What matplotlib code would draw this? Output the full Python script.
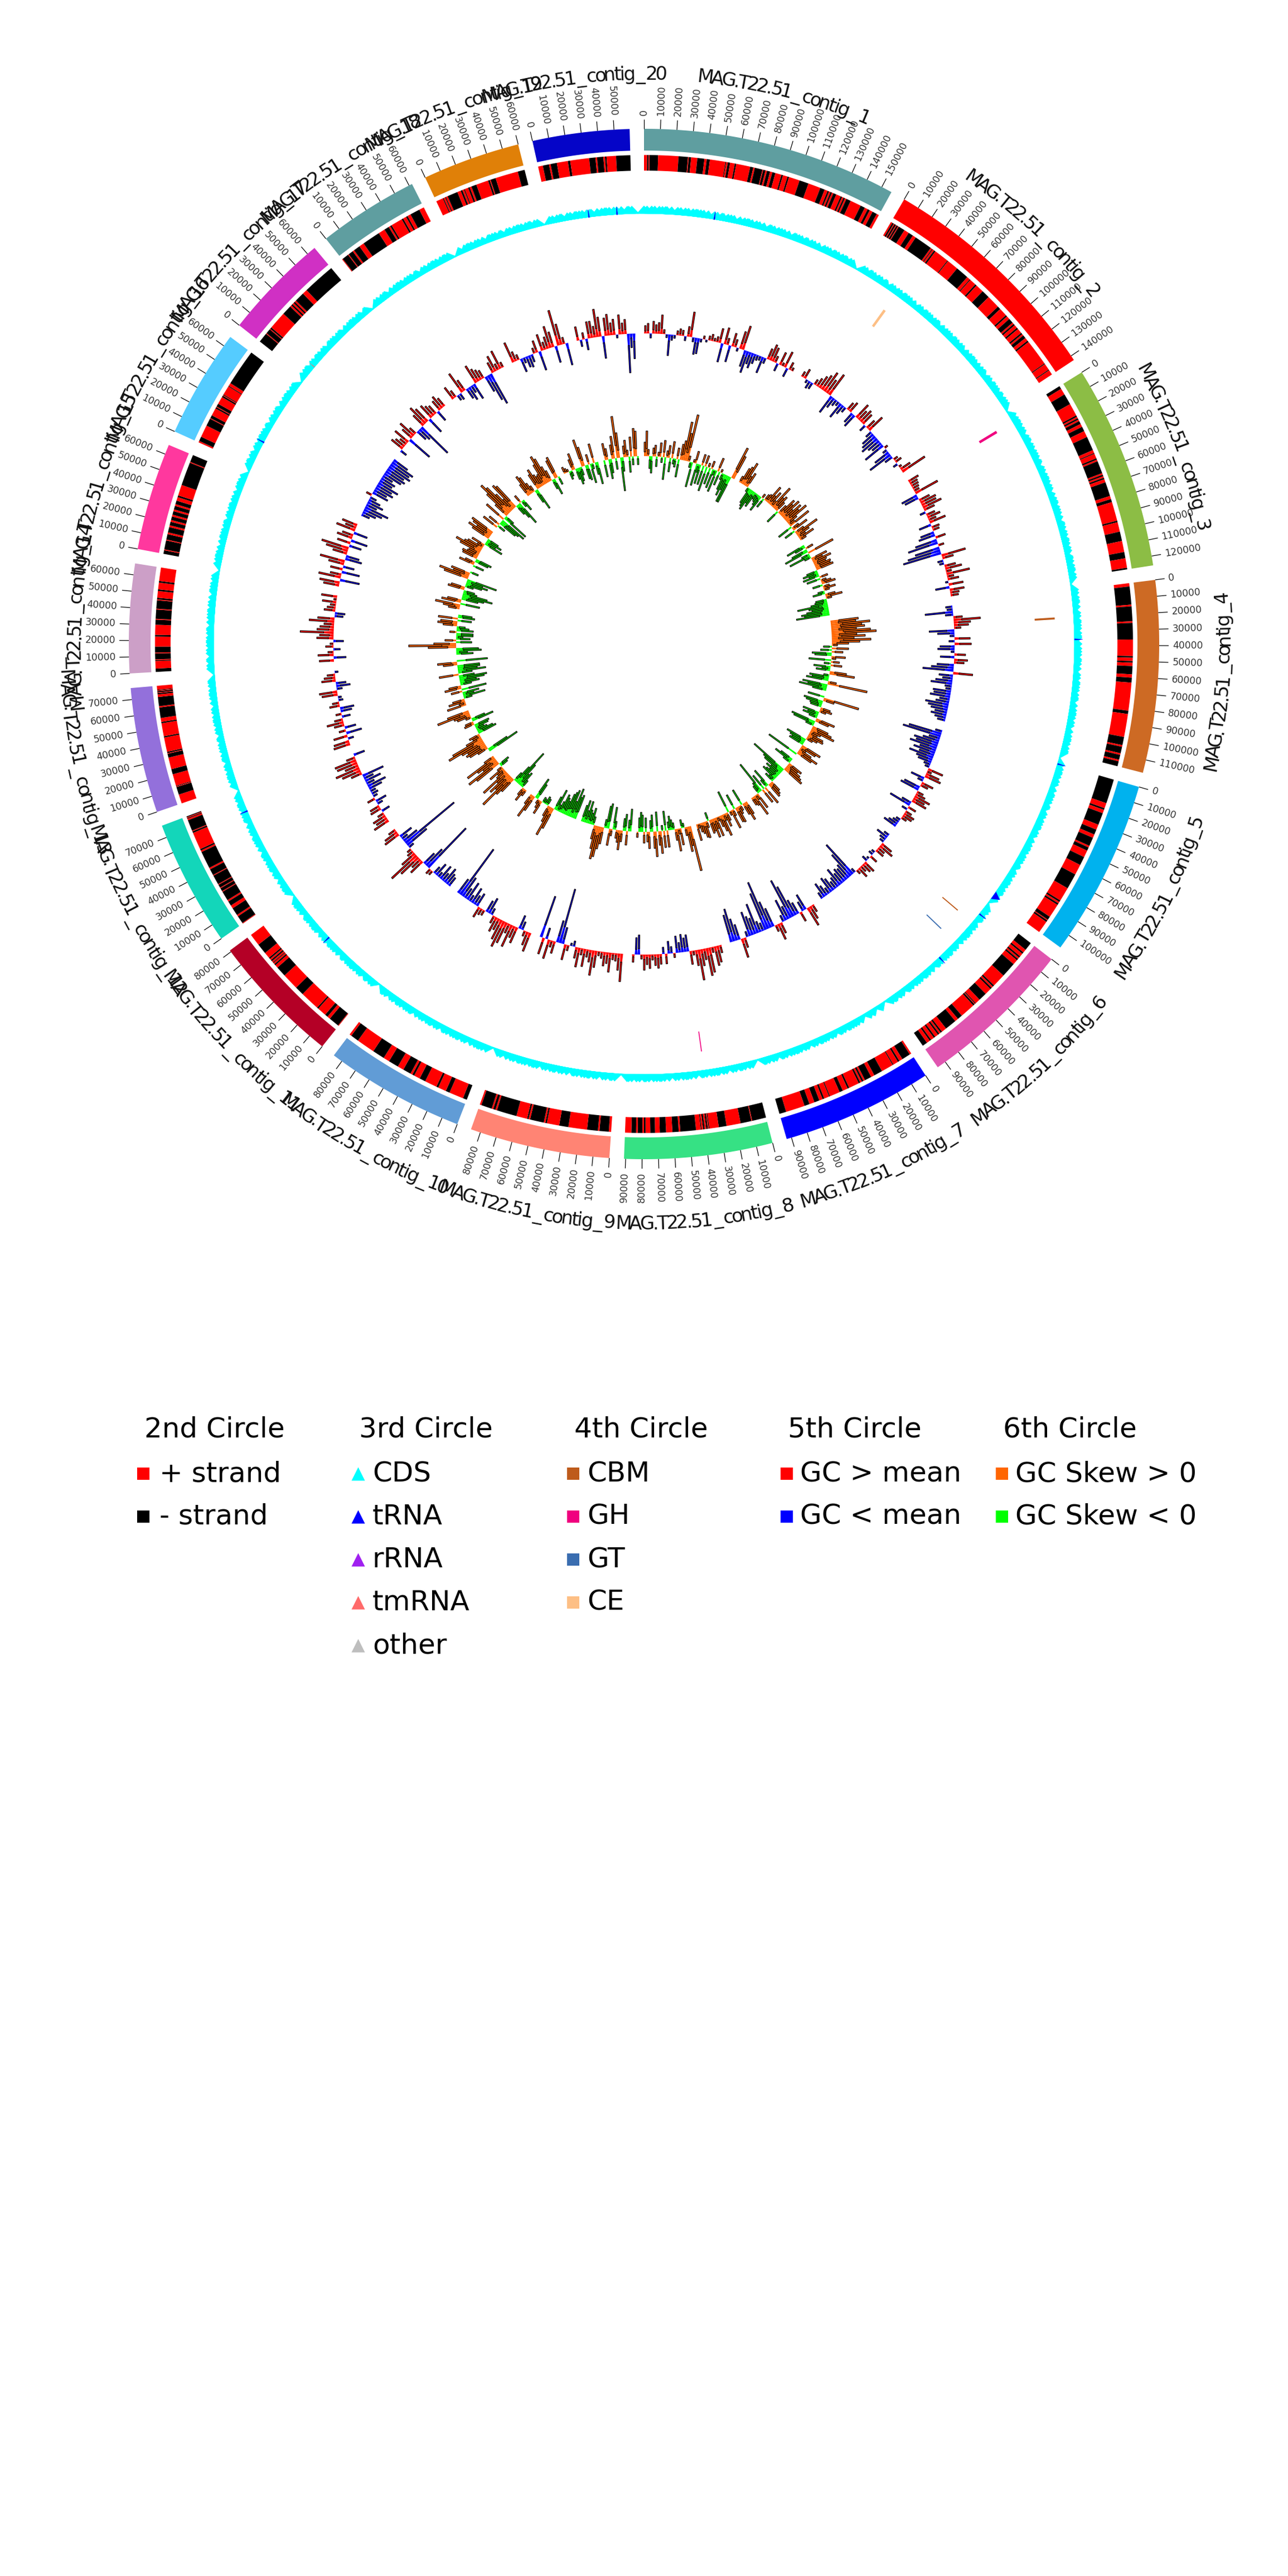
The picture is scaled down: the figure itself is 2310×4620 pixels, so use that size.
import numpy as np
import matplotlib
matplotlib.use("Agg")
import matplotlib.pyplot as plt
from matplotlib.collections import PolyCollection
from matplotlib.textpath import TextToPath
from matplotlib.font_manager import FontProperties

contig_names = [f"MAG.T22.51_contig_{i}" for i in range(1, 21)]
contig_kb = [156.6,143,125.7,118,109,95.6,93,91,86,86,81,77.6,77,67,66,66.7,65.6,62,60,59.5]
contig_colors = ["#5F9EA0","#FF0000","#8CBD45","#CD6A24","#00B2EE","#E055B0","#0000FF","#36E184","#FF8474","#619CD6",
                 "#B40026","#13D6BA","#9370DB","#CC9FC7","#FF389E","#55CCFF","#D030C4","#5F9EA0","#E08008","#0505C8"]

# alternating run lengths (kb), first run is + strand (red)
strand_runs = [
 [2,1,.5,5.5,13,6,.5,1.5,4,4.5,1.5,2,10,.5,1,1.5,3,1,9,2,1,5,.5,1.5,1,2,1.5,2,4,1,3,1,7,6,8,3,2,1,1,1,1,2,3,1,1,1,1,3,7,3,2,1.5,2,3,1.5],
 [1,1,.5,1,.5,1,.5,4,3,3,2,11,1,.5,1,1,9,.5,7,8,2,.5,4,1,5,5,8,2,5,1,2,3,1,1,2,1,3,1,1,2,2,1,16,.5,4,.5,3],
 [0,2,4,7,8,1,1,1,1,2,2,3,4,9,2,.5,3,1,1,8,1,1,1,1,2,9,2,2,12,1,6,6,7,4,6,1],
 [2,11,1,9,1,10,10,1,2,1,2,5,2,3,17,2,14,5,1,4,1,3,1,3],
 [0,14,3,1,2,7,3,3,2,5,1,2,4,5,6,9,8,1,1,1,8,2,.5,1,7],
 [0,5,2,1,2,1,1,1,3,9,8,1,1,1,4,5,3,.5,.5,1,9,3,2,7,3,1,1,1,2,1,2,1,2,3],
 [1,5,2,1,3,.5,7,5,2,4,1,1,1,1,6,1,3,2,6,.5,3,1,2,3,3,3,11,4],
 [0,9,.5,7,9,5,6,.5,.5,1,1,1,1,.5,3,10,1,4,4,4,3,3,3,1,1,3,1,3,4],
 [1.5,6,1,7,12,6,8,1,1,9,1,1,7,13,1,1.5,1,7,1],
 [0,2,7,2,4,1,6,3,3,1,1,4,3,5,3,6,9,4,1],
 [.5,7,2,2,6,1,13,6,11,7,2,1,1,.5,1,1,1,1,4,7,8],
 [.5,5,1,5,2,3,1,6,.5,2,.5,2,.5,6,.5,4,1,11,1,1,11,1,.5,7,1,.5,.5,.5],
 [7,6,.5,.5,9,4,9,3,.5,1,11,1,10,1,3,8,1,7,2,1,.5,1,.5,.5,3],
 [0,2,4.5,.5,.5,3.5,.5,3.5,6,1,6,3,.5,5.5,.5,5,.5,1,4,1,4,1,8],
 [0,2,.5,5,.5,3,1,3,1,2,1,2,1,2,1,2,1,2,2,1,6,13,.5,4],
 [1,3,8,5,.5,2,5,1,.5,2,5,1,.5,.5,6,.5,2,24],
 [0,6,.5,3,.5,1,11,6,1,1,1,1,1,6,3,20],
 [.5,4,.5,3,1,4,3,11,4,3,1,1,7,1,2,1,2,6,3],
 [4,.5,1,.5,1,6,2,1,1,.5,2,1,1,3,7,1,.5,3,13,4],
 [3,4,1,4,7,1.5,12,4,1,4,1,1,6,9],
]

# spacing between neighbouring CDS triangles, one digit per gene step
cds_steps = [
 "232322134232321223423132243212323412322341223132342231232132",
 "2312323142323122342312232143223123243212332142312231322",
 "32123242132322314232123243213223412323123241232132",
 "2321342312232143223123423122321432123243212321",
 "321232431223142322132432123223142321232132",
 "23214232123423122321432132232142312",
 "6363222132142322132423212232142321",
 "232132423122321432123243212232132321",
 "2132423122321432312324212322132342",
 "3212342312232142312323412232132421",
 "23142321223143221323421232143212",
 "212342312232143221323412232132",
 "321232412322314232123243212321",
 "23142321232143221323412232",
 "32123431223214232132342123",
 "21324232122314232143212321",
 "32142312324122321432123241",
 "232143212322314232123212",
 "421232341223142321232132",
 "232142312232143212323412",
]

# GC deviation per window: + goes outwards, - goes inwards
gc_values = [
 [14,18,-8,22,16,20,34,8,-6,-38,-10,-6,8,12,10,-8,18,45,-8,-30,-28,-6,6,-4,8,12,6,10,26,-34,30,12,-30,24,14,-6,32,44,-30,-40,-22,-28,-18,-10,-8,-30,-10,20,30,26,12,-14,24,6,30,-16,14,6],
 [10,18,-6,-14,-12,10,16,24,30,40,28,44,-35,-20,-12,-8,-30,-18,-10,15,20,-20,-25,30,20,26,22,-12,18,32,-12,-25,-30,-35,-25,-20,-40,6,-8,-30,-45,-15,8,12,-8,5,20,48],
 [20,15,14,12,10,45,-30,-26,20,30,28,36,20,-10,16,24,14,30,-22,14,12,-25,-30,18,-40,-55,10,-45,-60,-70,44,20,-10,-8,20,30,10,42,12,20,-5,26,-25,26,16,14],
 [-12,-10,-50,-14,16,48,30,26,12,-45,-30,-8,28,-10,30,-26,-30,-6,20,-25,24,18,-30,-40,-55,35,-25,-18,-30,-38,-12,-10,-32,-30,-36,-18,-24,-42,-36,-30,-22,-28,-20,-14],
 [-12,-60,-70,-20,-30,-45,-40,-50,-30,-40,-28,-45,-30,-25,-12,-8,28,8,25,30,-25,-10,22,14,-30,-35,12,18,30,22,28,-18,-40,15,-10,12,20,18,10,-8,-12,-18,-25],
 [-10,-22,-12,-8,22,28,14,16,-6,-8,14,-4,-10,22,18,12,20,8,-8,-70,-50,-30,-25,-28,-22,-35,-20,-15,-25,-30,-12,-20,-28,-12],
 [14,25,36,-30,-18,18,-22,-30,-60,-75,-25,-40,-12,20,30,12,-35,-50,-90,-70,-15,-20,-55,-30,-35,-45,-10,18,35,-28,-40,-60,-50],
 [14,30,35,10,45,50,20,30,55,28,8,24,-30,-25,-32,-18,-30,8,-12,-22,18,-12,18,25,20,10,25,18,28,8,-35,-30,14],
 [50,30,14,12,35,20,25,12,8,30,45,22,14,32,12,35,20,-10,-5,10,28,-30,-100,-40,22,12,35,-20,30,-77],
 [35,25,10,-15,-25,30,22,42,18,40,50,38,22,28,14,-12,-30,-22,10,12,20,-25,-18,-30,-12,-35,-20,-40,-100,-30],
 [-18,-22,-30,-16,-28,-10,-25,-14,8,10,-97,-40,-25,28,20,42,60,30,12,8,-10,-45,-113,-30,-12,-25,30,26,14],
 [30,22,25,12,-15,20,18,-10,-20,14,-8,-12,-10,-25,-35,-15,-30,-18,-40,20,35,45,25,38,40,16,-20],
 [30,28,-10,25,-28,12,-20,18,30,15,-15,10,-20,-25,18,12,-8,-6,28,32,-10,-25,-18,25,20,14,-6],
 [26,-22,28,10,-12,14,6,-18,30,25,60,30,25,18,45,30,-15,-18,20,15,10,25,5,28],
 [28,36,-35,40,20,-32,22,-20,28,45,-30,-24,26,40,50,-22,24,-30,28,20,-25,35,20,28],
 [-15,-25,-35,-45,-20,-30,-22,-12,10,-30,-25,-35,-30,-40,-25,-28,-20,-35,-40,-35,-45,-40,-45,-30],
 [-12,25,20,14,30,-46,22,32,14,-20,-25,-65,25,38,30,-30,28,22,18,-20,20,26,18],
 [25,14,-10,-12,40,22,-20,-26,-14,-30,35,25,20,16,-30,-50,-60,20,30,12,35,10],
 [38,18,10,-25,-10,-20,-22,-14,10,22,-35,30,14,22,40,28,-30,65,38,12,-40],
 [25,-12,12,-20,30,30,20,50,35,-40,32,38,22,28,-6,35,20,26,-70,-25,-45],
]

# GC skew per window: + goes outwards, - goes inwards
skew_values = [
 [25,45,12,-22,-30,15,20,-18,8,25,-10,30,-40,12,22,-25,30,-10,-15,20,-32,28,35,70,50,85,10,-10,-45,6,22,-40,-15,-35,20,-35,20,-45,8,-30,14,-35,-10,-40,25,-25,6,-12,-30,-40,-28,-50,-50,60,45],
 [12,30,35,45,20,28,-8,-30,-35,-40,-25,-30,-12,-15,-20,-30,8,-18,12,15,35,18,28,12,45,25,30,20,-25,18,35,28,40,22,38,30,45,20,12,42,-28,14,30,-20,18,45,25,15,30,12],
 [-35,-20,14,-30,-45,50,-15,-40,-12,30,20,35,25,22,30,28,32,-20,-28,-18,-30,15,-25,10,18,25,-18,12,22,10,-12,-22,18,30,10,-20,-22,-30,-55,-35,-30,-40,-50,-45,-60],
 [50,45,70,55,60,45,70,80,45,60,40,70,50,30,10,-15,30,-20,20,-35,-30,25,8,-40,15,-12,20,-30,-15,-25,30,45,-10,-35,-30,-40,15,72,-45,-35,-50,-25],
 [-30,65,20,-35,-30,-22,-20,18,22,12,-30,-20,-28,-15,35,25,-45,-40,-15,30,38,45,20,15,28,30,20,12,-38,-30,-25,-28,38,30,12,25,40,30,-60],
 [-25,-35,-15,28,22,30,35,40,-70,-45,-40,-22,-30,-20,-25,-30,-12,-18,20,25,28,-35,-15,35,-30,28,-60,-20,-15,30,10,40,18,15],
 [25,35,22,-30,10,15,30,28,-28,12,35,8,-40,15,25,12,40,30,20,8,35,20,35,22,25,-15,12,30,28,20,16,8,30],
 [82,35,45,15,-8,-15,30,10,40,20,-12,-18,-25,-15,30,-35,30,-10,40,25,-35,45,30,-30,-20,30,18,-25,20,-30,-35,-25,10],
 [-40,-20,25,-30,-22,20,35,22,15,-15,-40,12,30,-45,-40,-15,30,40,55,60,42,25,-15,-30,-20,-25,-40,-22,-40,-30],
 [-45,-40,-55,-30,-50,-45,-40,-25,-30,-35,-20,-12,-40,-25,40,55,30,20,-12,-15,-8,-10,25,15,8,-30,-40,30,45,20],
 [12,25,15,-15,-30,-25,-45,-70,-35,-18,30,40,70,35,45,25,55,20,15,30,10,-15,-20,50,65,30,40,60,20],
 [-60,-40,20,35,40,35,45,70,60,30,15,20,-35,-30,-20,-15,-25,-28,18,15,-40,-25,10,25,30,60,40],
 [35,12,30,22,-15,-40,-20,-30,20,-45,30,22,-20,-35,-30,-45,-50,-28,35,-25,-50,-35,-40,-40,25,35,-55],
 [-30,-20,-45,-40,50,85,40,-28,20,-25,-12,-30,-30,12,-30,-22,-15,25,35,30,-25,35,-30,-25],
 [20,30,45,-35,35,25,-30,-40,-55,-45,-25,-20,30,25,-15,-30,-40,-30,-55,45,55,30,35,-15],
 [-20,28,18,-25,-30,28,30,22,20,40,50,35,30,12,25,-35,-20,-30,-22,35,45,30,40,45],
 [30,-15,22,-35,-40,-50,40,-50,-18,28,52,70,60,40,25,55,50,-20,-30,-45,15,-12,-22],
 [25,40,35,20,12,-25,-40,30,38,25,20,22,40,55,48,30,20,-18,-30,35,40,-15],
 [12,8,5,-15,-10,20,30,-20,-30,-25,-15,50,35,-25,-28,18,-35,-10,35,-22,-40],
 [-30,30,20,-35,-25,25,40,-20,75,45,-60,-25,20,30,12,-28,35,-15,50,45,-15],
]

# 3rd circle extras: contig index, position (kb)
trna_contig = [0,3,4,5,5,10,11,15,19,19]
trna_kb = [51,35.5,0.2,6,49,46,66,19.6,28,48.5]
trna_big_contig = [4]
trna_big_kb = [107]
tmrna_contig = [16]
tmrna_kb = [10]

# 4th circle
cazy_contig = [1,2,3,5,5,7]
cazy_kb = [29.8,4.4,19.6,14.2,33,35]
cazy_width = [2.0,2.0,1.5,.8,.8,.7]
cazy_class = ["CE","GH","CBM","CBM","GT","GH"]
cazy_colors = {"CBM":"#BE5B1B","GH":"#F0007F","GT":"#3A6DB0","CE":"#FDBF85"}

legend_titles = ["2nd Circle","3rd Circle","4th Circle","5th Circle","6th Circle"]
legend_labels = [["+ strand","- strand"],["CDS","tRNA","rRNA","tmRNA","other"],["CBM","GH","GT","CE"],
                 ["GC > mean","GC < mean"],["GC Skew > 0","GC Skew < 0"]]
legend_colors = [["#FF0000","#000000"],["#00FFFF","#0000FF","#A020F0","#FF6A6A","#BEBEBE"],
                 ["#BE5B1B","#F0007F","#3A6DB0","#FDBF85"],["#FF0000","#0000FF"],["#FF6600","#00FF00"]]
legend_markers = ["s","^","s","s","s"]

W, H = 2310, 4620
CX, CY = 1155, 1155
DEG_PER_KB = 0.1833
GAP = 1.63

fig = plt.figure(figsize=(W/100, H/100), dpi=100)
ax = fig.add_axes([0, 0, 1, 1])
ax.set_xlim(0, W); ax.set_ylim(H, 0); ax.axis("off")

starts = []
a = 0.0
for L in contig_kb:
    starts.append(a)
    a += L*DEG_PER_KB + GAP

def ang(i, kb):
    return starts[i] + np.asarray(kb, float)*DEG_PER_KB

def xy(theta, r):
    t = np.radians(theta)
    return CX + r*np.sin(t), CY - r*np.cos(t)

def sector(t0, t1, r0, r1):
    n = max(2, int(abs(t1-t0)/0.25)+2)
    t = np.linspace(t0, t1, n)
    x0, y0 = xy(t, r0)
    x1, y1 = xy(t[::-1], r1)
    return np.column_stack([np.r_[x0, x1], np.r_[y0, y1]])

# 1st circle and axis
for i, L in enumerate(contig_kb):
    ax.add_collection(PolyCollection([sector(ang(i,0), ang(i,L), 885, 924)],
                      facecolors=contig_colors[i], edgecolors="none"))
    for k in range(0, int(L)+1, 10):
        th = ang(i, k)
        x0, y0 = xy(th, 924); x1, y1 = xy(th, 941)
        ax.plot([x0, x1], [y0, y1], color="black", lw=0.9, solid_capstyle="butt")
        xt, yt = xy(th, 948)
        lab = str(k*1000)
        if th <= 180:
            ax.text(xt, yt, lab, rotation=90-th, rotation_mode="anchor", ha="left", va="center", fontsize=12.4, color="#333333")
        else:
            ax.text(xt, yt, lab, rotation=270-th, rotation_mode="anchor", ha="right", va="center", fontsize=12.4, color="#333333")

# contig names bent along the circle
ttp = TextToPath()
fp = FontProperties(family="DejaVu Sans", size=100)
def advance(c):
    w, _, _ = ttp.get_text_width_height_descent(c, fp, False)
    w = w/100.0
    return 0.82 if c == "_" else w
EM = 34.0
for i, name in enumerate(contig_names):
    mid = ang(i, contig_kb[i]/2)
    flip = 90 < mid < 270
    r = 1050 if flip else 1012
    adv = [advance(c)*EM*0.81 for c in name]
    total = sum(adv)
    pos = -total/2
    for c, w in zip(name, adv):
        off = np.degrees((pos + w/2)/1030)
        th = mid - off if flip else mid + off
        x, y = xy(th, r)
        rot = 180 - th if flip else -th
        ax.text(x, y, c, rotation=rot, rotation_mode="anchor", ha="center", va="baseline",
                fontsize=EM*0.72, color="#111111")
        pos += w

# 2nd circle
for i, runs in enumerate(strand_runs):
    edges = np.r_[0, np.cumsum(runs)]
    edges = edges/edges[-1]*contig_kb[i]
    polys, cols = [], []
    for j in range(len(runs)):
        if runs[j] == 0:
            continue
        polys.append(sector(ang(i, edges[j]), ang(i, edges[j+1]), 849, 877))
        cols.append("#FF0000" if j % 2 == 0 else "#000000")
    ax.add_collection(PolyCollection(polys, facecolors=cols, edgecolors="none"))

# 3rd circle
def triangle(th, half, r0=772, r1=786):
    d = np.degrees(half/r0)
    x0, y0 = xy(th-d, r0); x1, y1 = xy(th, r1); x2, y2 = xy(th+d, r0)
    return [(x0,y0),(x1,y1),(x2,y2)]

for i, st in enumerate(cds_steps):
    steps = np.array([int(c) for c in st], float)
    p = np.r_[0, np.cumsum(steps)]
    p = p/p[-1]*contig_kb[i]
    ax.add_collection(PolyCollection([triangle(ang(i, q), 13) for q in p],
                      facecolors="#00FFFF", edgecolors="#00FFFF", linewidths=0.3))
for c, k in zip(trna_contig, trna_kb):
    th = ang(c, k)
    ax.add_collection(PolyCollection([triangle(th, 1.0)], facecolors="#0000FF", edgecolors="#0000FF", linewidths=0.5))
for c, k in zip(trna_big_contig, trna_big_kb):
    ax.add_collection(PolyCollection([triangle(ang(c, k), 8)], facecolors="#0000FF", edgecolors="none"))
for c, k in zip(tmrna_contig, tmrna_kb):
    ax.add_collection(PolyCollection([triangle(ang(c, k), 0.8)], facecolors="#FF6A6A", edgecolors="none"))

# 4th circle
for c, k, w, cl in zip(cazy_contig, cazy_kb, cazy_width, cazy_class):
    ax.add_collection(PolyCollection([sector(ang(c, k-w/2), ang(c, k+w/2), 702, 738)],
                      facecolors=cazy_colors[cl], edgecolors="none"))

# 5th and 6th circles: bright tapered body plus an outlined needle per window
def spikes(values, base, cpos, cneg):
    d = np.degrees(1.3/base)
    for i, vals in enumerate(values):
        w = contig_kb[i]/len(vals)
        body, needle, bc, nc = [], [], [], []
        for j, v in enumerate(vals):
            t0, t1 = ang(i, j*w), ang(i, (j+1)*w)
            tc = (t0+t1)/2
            col = cpos if v >= 0 else cneg
            tx = [t0, tc-d, tc+d, t1]
            rx = [base, base+0.5*v, base+0.5*v, base]
            bx, by = xy(np.array(tx), np.array(rx))
            body.append(np.column_stack([bx, by]))
            bc.append(col)
            needle.append(sector(tc-d, tc+d, base+0.3*v, base+v))
            nc.append(col)
        ax.add_collection(PolyCollection(body, facecolors=bc, edgecolors="none"))
        ax.add_collection(PolyCollection(needle, facecolors=nc, edgecolors="#120808", linewidths=0.9))

spikes(gc_values, 557, "#FF0000", "#0000FF")
spikes(skew_values, 337, "#FF6600", "#00FF00")

# legend
col_title_x = [259, 644, 1030, 1413, 1799]
col_mark_x = [257, 642, 1028, 1411, 1797]
col_text_x = [286, 668, 1053, 1435, 1821]
title_y = 2563
row_y = [2645, 2722, 2799, 2876, 2953]
for c in range(5):
    ax.text(col_title_x[c], title_y, legend_titles[c], fontsize=36, ha="left", va="center", color="black")
    for j, lab in enumerate(legend_labels[c]):
        ax.scatter([col_mark_x[c]], [row_y[j]-2], s=(300 if legend_markers[c] == "^" else 250), marker=legend_markers[c], color=legend_colors[c][j], linewidths=0)
        ax.text(col_text_x[c], row_y[j]-2, lab, fontsize=36, ha="left", va="center", color="black")

fig.savefig("out.png", dpi=100, facecolor="white")
